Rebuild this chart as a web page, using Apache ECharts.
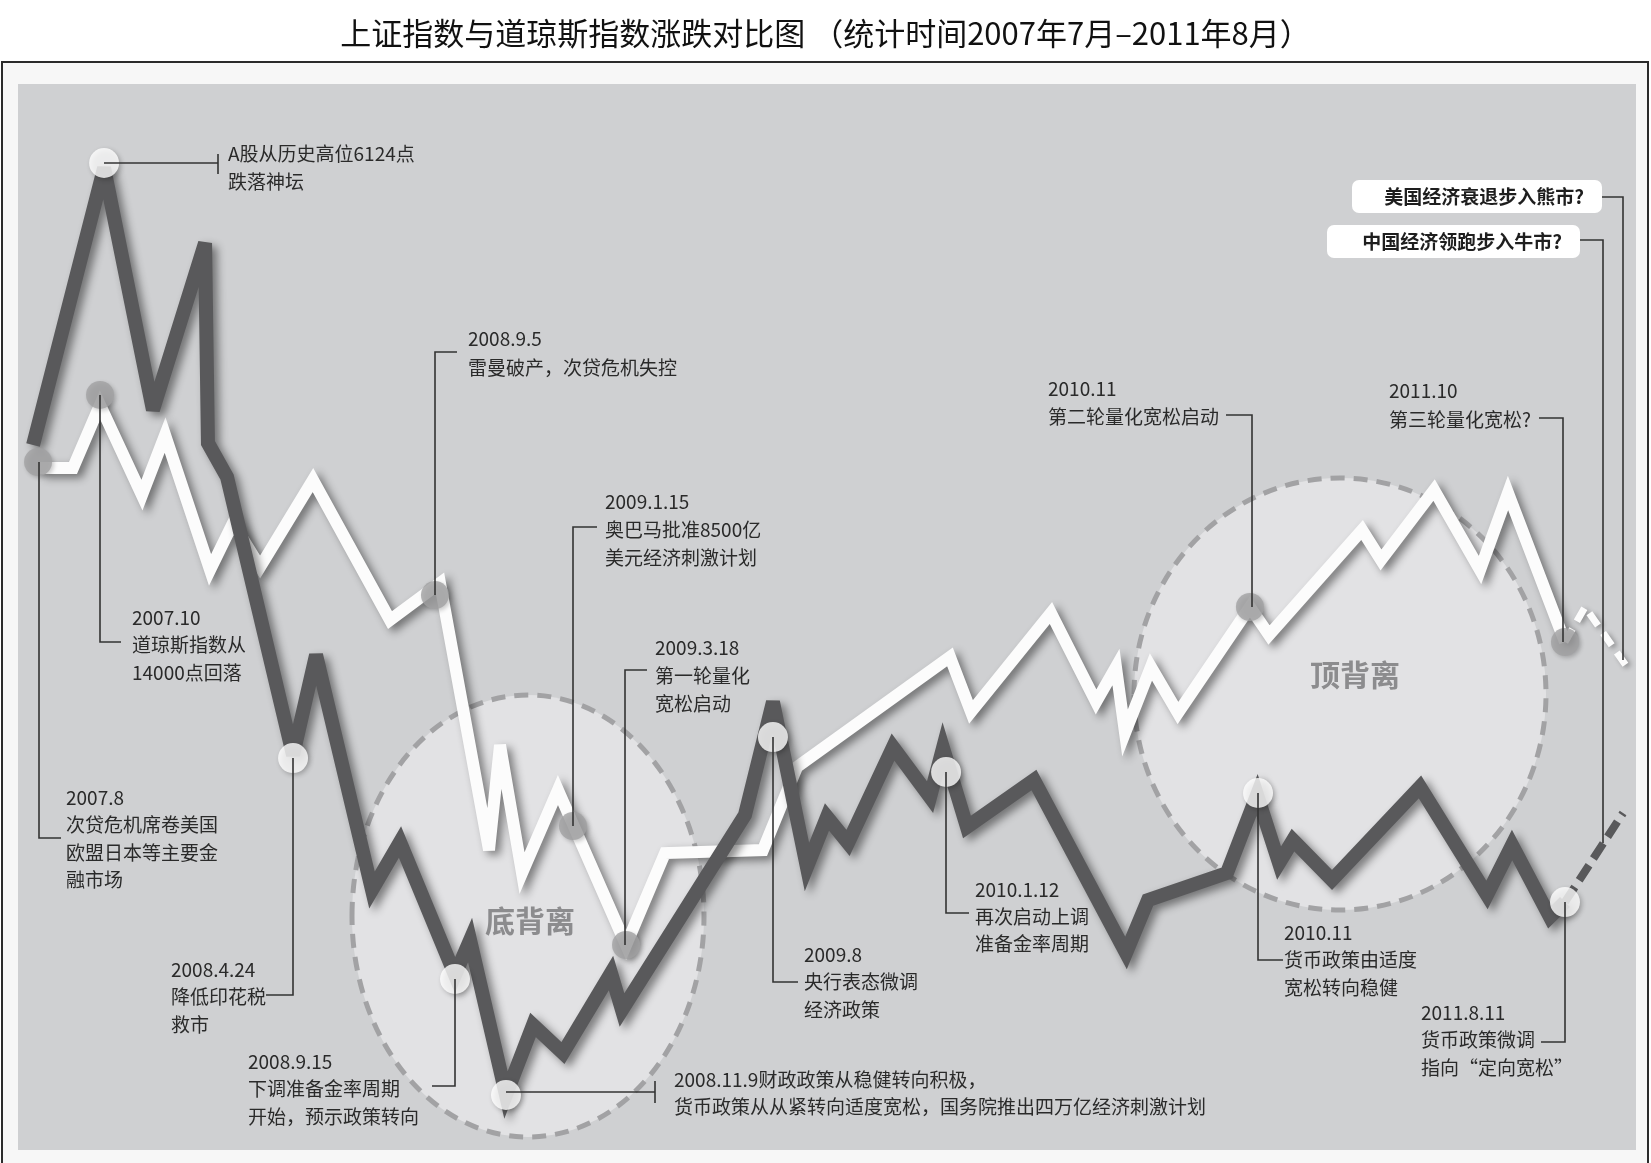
<!DOCTYPE html>
<html><head><meta charset="utf-8">
<script src="https://cdn.jsdelivr.net/npm/echarts@6/dist/echarts.min.js"></script>
<style>html,body{margin:0;padding:0;background:#fff;}#c{width:1651px;height:1163px;}</style>
</head><body><div id="c"></div>
<script>
// 走势（时间轴 0-100，指数水平归一化 0-100）
const shLine = [[0.93,66.14],[5.32,92.12],[8.34,69.42],[11.56,85.08],[11.74,66.32],[12.92,63.13],[17.00,37.05],[18.42,46.44],[21.88,24.39],[23.61,28.89],[27.01,16.42],[27.94,19.70],[30.16,5.16],[31.83,11.73],[33.68,9.10],[36.65,16.60],[37.33,13.13],[44.93,31.43],[46.66,42.03],[48.76,26.55],[50.00,31.24],[51.30,28.80],[54.08,37.80],[56.37,33.11],[57.17,37.71],[58.65,30.30],[62.79,34.71],[68.48,18.48],[69.84,23.45],[74.72,25.98],[76.58,33.30],[77.94,26.92],[78.80,29.08],[81.21,25.33],[86.65,34.05],[90.79,23.92],[92.34,28.61],[94.68,21.86],[95.61,23.26]];
const shOutlook = [[95.61,23.26],[99.20,31.61]];
const djLine = [[1.36,63.98],[3.40,63.98],[5.07,69.89],[7.66,61.44],[9.09,67.07],[11.87,54.41],[13.29,58.82],[14.96,54.69],[18.23,62.85],[22.99,49.72],[26.08,53.19],[29.11,28.14],[29.79,37.99],[31.15,25.98],[33.37,33.77],[37.58,19.23],[39.99,27.86],[46.04,28.14],[48.15,35.93],[57.60,46.25],[58.90,41.09],[63.84,50.38],[66.63,42.03],[67.86,45.31],[68.42,39.12],[70.02,45.31],[71.69,40.99],[76.14,50.94],[77.32,48.31],[83.07,58.16],[84.24,55.35],[87.52,61.91],[90.36,54.41],[92.09,61.63],[95.61,47.65]];
const djOutlook = [[95.61,47.65],[96.85,50.94],[99.44,45.31]];
const shEvents = [[5.32,92.59],[17.00,36.77],[27.01,16.04],[30.16,5.16],[46.66,38.74],[57.36,35.46],[76.64,33.49],[95.61,23.26]];
const djEvents = [[1.24,64.54],[5.07,70.83],[25.77,52.06],[34.30,30.39],[37.58,19.23],[76.14,50.94],[95.61,47.65]];

const titleText = '上证指数与道琼斯指数涨跌对比图 （统计时间2007年7月–2011年8月）';

const FONT = '"Noto Sans CJK SC", "Noto Sans", sans-serif';
const TXT = '#2a2a2a';
const chart = echarts.init(document.getElementById('c'), null, {renderer: 'canvas'});

function note(x, y, text, lh) {
  return {type: 'text', x: x, y: y, z: 11,
    style: {text: text, fill: TXT, font: '19px ' + FONT, lineHeight: lh || 28,
      textAlign: 'left', align: 'left', textVerticalAlign: 'top', verticalAlign: 'top'}};
}
function lead(points) {
  return {type: 'polyline', z: 10, shape: {points: points},
    style: {stroke: '#333', lineWidth: 1.6, fill: null}};
}

const graphics = [
  {type: 'rect', z: 0, shape: {x: 2, y: 62, width: 1646, height: 1130}, style: {fill: '#f7f7f7', stroke: '#2b2b2b', lineWidth: 2}},
  {type: 'rect', z: 1, shape: {x: 18, y: 84, width: 1618, height: 1066}, style: {fill: '#cfd0d2'}},
  {type: 'ellipse', z: 2, shape: {cx: 528, cy: 916, rx: 176, ry: 221}, style: {fill: '#e2e2e4', stroke: '#a2a2a4', lineWidth: 5, lineDash: [14, 9]}},
  {type: 'ellipse', z: 2, shape: {cx: 1340, cy: 694, rx: 206, ry: 216}, style: {fill: '#e2e2e4', stroke: '#a2a2a4', lineWidth: 5, lineDash: [14, 9]}},
  {type: 'text', z: 2, x: 530, y: 921, style: {text: '底背离', fill: '#8c8c8e', font: 'bold 30px ' + FONT, textAlign: 'center', align: 'center', textVerticalAlign: 'middle', verticalAlign: 'middle'}},
  {type: 'text', z: 2, x: 1355, y: 675, style: {text: '顶背离', fill: '#8c8c8e', font: 'bold 30px ' + FONT, textAlign: 'center', align: 'center', textVerticalAlign: 'middle', verticalAlign: 'middle'}},

  note(228, 140, 'A股从历史高位6124点\n跌落神坛'),
  lead([[104,163],[218,163]]), lead([[218,154],[218,174]]),

  note(468, 324, '2008.9.5\n雷曼破产，次贷危机失控', 29),
  lead([[435,595],[435,352],[457,352]]),

  note(605, 488, '2009.1.15\n奥巴马批准8500亿\n美元经济刺激计划'),
  lead([[573,826],[573,527],[597,527]]),

  note(655, 634, '2009.3.18\n第一轮量化\n宽松启动'),
  lead([[625,945],[625,670],[647,670]]),

  note(132, 604, '2007.10\n道琼斯指数从\n14000点回落', 27.5),
  lead([[100,395],[100,642],[121,642]]),

  note(66, 784, '2007.8\n次贷危机席卷美国\n欧盟日本等主要金\n融市场', 27.5),
  lead([[39,462],[39,838],[61,838]]),

  note(171, 956, '2008.4.24\n降低印花税\n救市', 27.5),
  lead([[266,995],[293,995],[293,758]]),

  note(248, 1048, '2008.9.15\n下调准备金率周期\n开始，预示政策转向', 27.5),
  lead([[432,1086],[455,1086],[455,979]]),

  note(674, 1066, '2008.11.9财政政策从稳健转向积极，\n货币政策从从紧转向适度宽松，国务院推出四万亿经济刺激计划', 27),
  lead([[506,1092],[655,1092]]), lead([[655,1081],[655,1103]]),

  note(804, 941, '2009.8\n央行表态微调\n经济政策', 27.5),
  lead([[773,737],[773,982],[798,982]]),

  note(975, 876, '2010.1.12\n再次启动上调\n准备金率周期', 27),
  lead([[946,772],[946,913],[969,913]]),

  note(1048, 375, '2010.11\n第二轮量化宽松启动', 28),
  lead([[1226,415],[1252,415],[1252,607]]),

  note(1389, 376, '2011.10\n第三轮量化宽松?', 29),
  lead([[1539,418],[1563,418],[1563,642]]),

  {type: 'rect', z: 10, shape: {x: 1352, y: 180, width: 250, height: 33, r: 7}, style: {fill: '#ffffff'}},
  {type: 'text', z: 11, x: 1584, y: 197, style: {text: '美国经济衰退步入熊市?', fill: '#1e1e1e', font: 'bold 19px ' + FONT, textAlign: 'right', align: 'right', textVerticalAlign: 'middle', verticalAlign: 'middle'}},
  lead([[1602,197],[1623,197],[1623,660]]),

  {type: 'rect', z: 10, shape: {x: 1327, y: 225, width: 253, height: 33, r: 7}, style: {fill: '#ffffff'}},
  {type: 'text', z: 11, x: 1562, y: 242, style: {text: '中国经济领跑步入牛市?', fill: '#1e1e1e', font: 'bold 19px ' + FONT, textAlign: 'right', align: 'right', textVerticalAlign: 'middle', verticalAlign: 'middle'}},
  lead([[1580,240],[1603,240],[1603,843]]),

  note(1284, 919, '2010.11\n货币政策由适度\n宽松转向稳健', 27.5),
  lead([[1258,793],[1258,960],[1283,960]]),

  note(1421, 999, '2011.8.11\n货币政策微调\n指向“定向宽松”', 27.5),
  lead([[1541,1042],[1565,1042],[1565,902]])
];

const shadow = {shadowColor: 'rgba(0,0,0,0.45)', shadowBlur: 9, shadowOffsetX: 5, shadowOffsetY: 4};

chart.setOption({
  animation: false,
  backgroundColor: '#ffffff',
  title: {text: titleText, left: 'center', top: 13,
    textStyle: {fontFamily: FONT, fontSize: 31, fontWeight: 'normal', color: '#111'}},
  grid: {left: 18, top: 84, width: 1618, height: 1066, show: false},
  xAxis: {type: 'value', min: 0, max: 100, show: false},
  yAxis: {type: 'value', min: 0, max: 100, show: false},
  graphic: {elements: graphics},
  series: [
    {name: '道琼斯指数', type: 'line', z: 3, data: djLine, symbol: 'none', silent: true,
      lineStyle: Object.assign({color: '#fcfcfc', width: 12, join: 'miter', miterLimit: 4}, shadow)},
    {name: '道琼斯指数预期', type: 'line', z: 3, data: djOutlook, symbol: 'none', silent: true,
      lineStyle: {color: '#fcfcfc', width: 7, type: [15, 9], shadowColor: 'rgba(0,0,0,0.3)', shadowBlur: 5, shadowOffsetX: 3, shadowOffsetY: 2}},
    {name: '上证指数', type: 'line', z: 4, data: shLine, symbol: 'none', silent: true,
      lineStyle: Object.assign({color: '#59595b', width: 14, join: 'miter', miterLimit: 4}, shadow)},
    {name: '上证指数预期', type: 'line', z: 4, data: shOutlook, symbol: 'none', silent: true,
      lineStyle: {color: '#59595b', width: 8, type: [18, 8]}},
    {name: '道指事件', type: 'scatter', z: 6, data: djEvents, symbolSize: 28, silent: true,
      itemStyle: {color: '#a1a1a3', shadowColor: 'rgba(0,0,0,0.25)', shadowBlur: 4, shadowOffsetX: 2, shadowOffsetY: 2}},
    {name: '上证事件', type: 'scatter', z: 6, data: shEvents, symbolSize: 30, silent: true,
      itemStyle: {color: '#ffffff', shadowColor: 'rgba(0,0,0,0.3)', shadowBlur: 5, shadowOffsetX: 2, shadowOffsetY: 2}}
  ]
});
</script></body></html>
